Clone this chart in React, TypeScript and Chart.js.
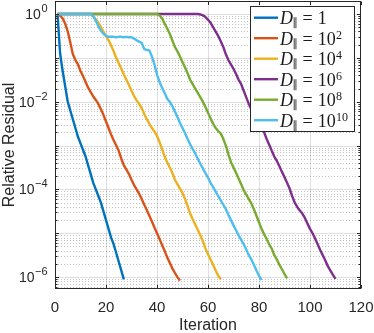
import React, { useEffect, useRef } from "react";
import { Chart, registerables } from "chart.js";
Chart.register(...registerables);

// Axis definitions
const X_TICKS = [0, 20, 40, 60, 80, 100, 120];
const X_MIN = 0;
const X_MAX = 120;
const Y_LABEL_EXPONENTS = [0, -2, -4, -6];
const Y_MIN = 5.36e-7;
const Y_MAX = 1.98;
const X_TITLE = "Iteration";
const Y_TITLE = "Relative Residual";

// Legend: D_∥ = base^exp
const LEGEND_BASE = ["1", "10", "10", "10", "10", "10"];
const LEGEND_EXP = ["", "2", "4", "6", "8", "10"];
const COLORS = ["#0072BD", "#D95319", "#EDB120", "#7E2F8E", "#77AC30", "#4DBEEE"];

// log10(relative residual) at iterations 1, 2, 3, ...
const LOG_RES_D1 = [
  0, -0.9, -1.3, -1.65, -2.0, -2.2, -2.4, -2.6, -2.8, -2.95,
  -3.1, -3.25, -3.45, -3.65, -3.85, -4.0, -4.15, -4.3, -4.5, -4.7,
  -4.9, -5.1, -5.25, -5.45, -5.65, -5.85, -6.05,
];
const LOG_RES_D1E2 = [
  0, -0.04, -0.1, -0.22, -0.4, -0.65, -0.92, -1.05, -1.15, -1.3,
  -1.42, -1.55, -1.68, -1.78, -1.88, -1.96, -2.05, -2.17, -2.3, -2.45,
  -2.6, -2.75, -2.88, -3.0, -3.12, -3.3, -3.45, -3.55, -3.65, -3.78,
  -3.9, -4.0, -4.1, -4.22, -4.35, -4.47, -4.6, -4.73, -4.87, -5.0,
  -5.13, -5.27, -5.4, -5.55, -5.67, -5.8, -5.9, -6.0, -6.08,
];
const LOG_RES_D1E4 = [
  0, 0, 0, 0, 0, 0, 0, 0, 0, 0,
  0, 0, 0, 0, -0.05, -0.12, -0.2, -0.3, -0.4, -0.5,
  -0.6, -0.72, -0.85, -1.0, -1.12, -1.25, -1.38, -1.5, -1.62, -1.75,
  -1.87, -1.97, -2.05, -2.15, -2.28, -2.4, -2.5, -2.6, -2.68, -2.78,
  -2.92, -3.08, -3.25, -3.38, -3.5, -3.62, -3.78, -3.88, -3.98, -4.08,
  -4.22, -4.38, -4.55, -4.68, -4.8, -4.92, -5.05, -5.18, -5.35, -5.48,
  -5.6, -5.72, -5.85, -5.97, -6.05,
];
const LOG_RES_D1E6 = [
  0, 0, 0, 0, 0, 0, 0, 0, 0, 0,
  0, 0, 0, 0, 0, 0, 0, 0, 0, 0,
  0, 0, 0, 0, 0, 0, 0, 0, 0, 0,
  0, 0, 0, 0, 0, 0, 0, 0, 0, 0,
  0, 0, 0, 0, 0, 0, 0, 0, 0, 0,
  0, 0, 0, 0, 0, 0, -0.01, -0.03, -0.07, -0.13,
  -0.2, -0.3, -0.4, -0.5, -0.62, -0.75, -0.92, -1.05, -1.15, -1.25,
  -1.37, -1.5, -1.6, -1.75, -1.9, -2.05, -2.18, -2.3, -2.42, -2.55,
  -2.62, -2.7, -2.85, -2.98, -3.12, -3.25, -3.35, -3.47, -3.6, -3.72,
  -3.85, -3.98, -4.15, -4.3, -4.4, -4.48, -4.55, -4.65, -4.78, -4.9,
  -5.0, -5.12, -5.25, -5.38, -5.5, -5.62, -5.75, -5.85, -5.95, -6.04,
];
const LOG_RES_D1E8 = [
  0, 0, 0, 0, 0, 0, 0, 0, 0, 0,
  0, 0, 0, 0, 0, 0, 0, 0, 0, 0,
  0, 0, 0, 0, 0, 0, 0, 0, 0, 0,
  0, 0, 0, 0, 0, 0, 0, 0, 0, 0,
  -0.03, -0.1, -0.22, -0.33, -0.45, -0.6, -0.75, -0.85, -0.97, -1.1,
  -1.22, -1.35, -1.5, -1.6, -1.7, -1.8, -1.9, -2.0, -2.12, -2.25,
  -2.38, -2.5, -2.6, -2.67, -2.72, -2.85, -3.0, -3.2, -3.38, -3.5,
  -3.62, -3.75, -3.88, -4.02, -4.12, -4.22, -4.32, -4.45, -4.6, -4.75,
  -4.9, -5.02, -5.13, -5.25, -5.35, -5.5, -5.6, -5.72, -5.82, -5.93,
  -6.03,
];
const LOG_RES_D1E10 = [
  0, 0, 0, 0, 0, 0, 0, 0, 0, 0,
  0, 0, 0, 0, -0.05, -0.15, -0.28, -0.38, -0.45, -0.5,
  -0.52, -0.52, -0.52, -0.53, -0.52, -0.52, -0.53, -0.52, -0.53, -0.53,
  -0.56, -0.6, -0.63, -0.66, -0.8, -0.82, -0.83, -0.97, -1.15, -1.38,
  -1.55, -1.68, -1.8, -1.93, -2.0, -2.1, -2.22, -2.35, -2.48, -2.6,
  -2.72, -2.85, -2.97, -3.08, -3.18, -3.3, -3.42, -3.52, -3.63, -3.73,
  -3.85, -3.95, -4.05, -4.15, -4.25, -4.35, -4.45, -4.58, -4.7, -4.82,
  -4.93, -5.05, -5.15, -5.25, -5.37, -5.5, -5.6, -5.72, -5.85, -5.97,
  -6.07,
];
const SERIES = [LOG_RES_D1, LOG_RES_D1E2, LOG_RES_D1E4, LOG_RES_D1E6, LOG_RES_D1E8, LOG_RES_D1E10];

const AXIS_COLOR = "#262626";
const SANS = '"Liberation Sans", Arial, Helvetica, sans-serif';
const SERIF = '"Liberation Serif", "Times New Roman", serif';

const matlabPlugin = {
  id: "matlabAxes",
  beforeDatasetsDraw(chart: any) {
    const { ctx, chartArea: a, scales } = chart;
    const xs = scales.x;
    const ys = scales.y;
    ctx.save();
    ctx.beginPath();
    ctx.rect(a.left, a.top, a.right - a.left, a.bottom - a.top);
    ctx.clip();
    ctx.lineWidth = 1;
    // minor y grid (dotted)
    ctx.strokeStyle = "rgba(38,38,38,0.28)";
    ctx.setLineDash([1, 2]);
    for (let d = -7; d <= 0; d++) {
      for (let m = 2; m <= 9; m++) {
        const v = m * Math.pow(10, d);
        if (v < Y_MIN || v > Y_MAX) continue;
        const py = Math.round(ys.getPixelForValue(v)) + 0.5;
        ctx.beginPath();
        ctx.moveTo(a.left, py);
        ctx.lineTo(a.right, py);
        ctx.stroke();
      }
    }
    ctx.setLineDash([]);
    ctx.strokeStyle = "rgba(38,38,38,0.15)";
    for (let d = -7; d <= 0; d++) {
      const v = Math.pow(10, d);
      if (v < Y_MIN || v > Y_MAX) continue;
      const py = Math.round(ys.getPixelForValue(v)) + 0.5;
      ctx.beginPath();
      ctx.moveTo(a.left, py);
      ctx.lineTo(a.right, py);
      ctx.stroke();
    }
    for (const t of X_TICKS) {
      const px = Math.round(xs.getPixelForValue(t)) + 0.5;
      ctx.beginPath();
      ctx.moveTo(px, a.top);
      ctx.lineTo(px, a.bottom);
      ctx.stroke();
    }
    ctx.restore();
  },
  afterDatasetsDraw(chart: any) {
    const { ctx, chartArea: a, scales } = chart;
    const xs = scales.x;
    const ys = scales.y;
    ctx.save();
    ctx.strokeStyle = AXIS_COLOR;
    ctx.fillStyle = AXIS_COLOR;
    ctx.lineWidth = 1;
    const L = a.left + 0.5, R = a.right - 0.5, T = a.top + 0.5, B = a.bottom - 0.5;
    ctx.strokeRect(L, T, R - L, B - T);
    // x ticks (bottom & top)
    for (const t of X_TICKS) {
      const px = Math.round(xs.getPixelForValue(t)) + 0.5;
      ctx.beginPath();
      ctx.moveTo(px, B); ctx.lineTo(px, B - 3.5);
      ctx.moveTo(px, T); ctx.lineTo(px, T + 3.5);
      ctx.stroke();
    }
    // y ticks (left & right), major and minor
    for (let d = -7; d <= 0; d++) {
      for (let m = 1; m <= 9; m++) {
        const v = m * Math.pow(10, d);
        if (v < Y_MIN || v > Y_MAX) continue;
        const len = m === 1 ? 3.5 : 2;
        const py = Math.round(ys.getPixelForValue(v)) + 0.5;
        ctx.beginPath();
        ctx.moveTo(L, py); ctx.lineTo(L + len, py);
        ctx.moveTo(R, py); ctx.lineTo(R - len, py);
        ctx.stroke();
      }
    }
    // x tick labels
    ctx.font = `15px ${SANS}`;
    ctx.textAlign = "center";
    ctx.textBaseline = "alphabetic";
    for (const t of X_TICKS) {
      const px = xs.getPixelForValue(t);
      ctx.fillText(String(t), px, a.bottom + 22.5);
    }
    // y tick labels 10^k
    const xEnd = a.left - 7.5;
    for (const e of Y_LABEL_EXPONENTS) {
      const py = ys.getPixelForValue(Math.pow(10, e));
      const expStr = e < 0 ? "\u2212" + String(-e) : String(e);
      ctx.font = `11px ${SANS}`;
      const supW = ctx.measureText(expStr).width;
      ctx.textAlign = "left";
      ctx.fillText(expStr, xEnd - supW, py - 2);
      ctx.font = `14px ${SANS}`;
      ctx.textAlign = "right";
      ctx.fillText("10", xEnd - supW - 0.5, py + 5);
    }
    // axis titles
    ctx.font = `16px ${SANS}`;
    ctx.textAlign = "center";
    ctx.fillText(X_TITLE, (a.left + a.right) / 2, a.bottom + 41);
    ctx.save();
    ctx.translate(14, (a.top + a.bottom) / 2);
    ctx.rotate(-Math.PI / 2);
    ctx.fillText(Y_TITLE, 0, 0);
    ctx.restore();

    // legend
    const lw = 104, lh = 125;
    const lx = a.right - 7 - lw;
    const ly = a.top + 5;
    ctx.fillStyle = "#ffffff";
    ctx.fillRect(lx, ly, lw, lh);
    ctx.strokeStyle = AXIS_COLOR;
    ctx.strokeRect(Math.round(lx) + 0.5, Math.round(ly) + 0.5, lw, lh);
    const rowH = 20.5;
    chart.data.datasets.forEach((ds: any, i: number) => {
      const cy = ly + 11.7 + i * rowH;
      ctx.strokeStyle = ds.borderColor;
      ctx.lineWidth = 2.4;
      ctx.beginPath();
      ctx.moveTo(lx + 4, cy);
      ctx.lineTo(lx + 28, cy);
      ctx.stroke();
      ctx.fillStyle = "#1a1a1a";
      ctx.textAlign = "left";
      let tx = lx + 30;
      ctx.font = `italic 18px ${SERIF}`;
      ctx.fillText("D", tx, cy + 6.3);
      tx += ctx.measureText("D").width - 0.5;
      ctx.font = `11px "DejaVu Sans", sans-serif`;
      ctx.fillText("\u2225", tx, cy + 8.5);
      tx += ctx.measureText("\u2225").width + 4.5;
      ctx.font = `18px ${SERIF}`;
      ctx.fillText("=", tx, cy + 6.3);
      tx += ctx.measureText("=").width + 5;
      ctx.fillText(LEGEND_BASE[i], tx, cy + 6.3);
      tx += ctx.measureText(LEGEND_BASE[i]).width + 0.3;
      if (LEGEND_EXP[i]) {
        ctx.font = `12px ${SERIF}`;
        ctx.fillText(LEGEND_EXP[i], tx, cy + 0.5);
      }
    });
    ctx.restore();
  },
};

export default function App() {
  const ref = useRef<HTMLCanvasElement>(null);
  useEffect(() => {
    if (!ref.current) return;
    const datasets = SERIES.map((s, i) => ({
      label: LEGEND_BASE[i] + LEGEND_EXP[i],
      data: s.map((e, k) => ({ x: k + 1, y: Math.pow(10, e) })),
      borderColor: COLORS[i],
      backgroundColor: COLORS[i],
      borderWidth: 2.4,
      pointRadius: 0,
      tension: 0,
      fill: false,
      borderJoinStyle: "round" as const,
      order: SERIES.length - i,
    }));
    const chart = new Chart(ref.current, {
      type: "line",
      data: { datasets },
      options: {
        animation: false,
        responsive: false,
        devicePixelRatio: 1,
        layout: { padding: { left: 55, right: 13, top: 1, bottom: 44 } },
        plugins: { legend: { display: false }, tooltip: { enabled: false } },
        scales: {
          x: { type: "linear", min: X_MIN, max: X_MAX, display: false },
          y: { type: "logarithmic", min: Y_MIN, max: Y_MAX, display: false },
        },
      },
      plugins: [matlabPlugin],
    });
    return () => chart.destroy();
  }, []);
  return (
    <div style={{ position: "fixed", left: 0, top: 0, width: 374, height: 333, background: "#fff" }}>
      <canvas ref={ref} width={374} height={333} style={{ display: "block" }} />
    </div>
  );
}
